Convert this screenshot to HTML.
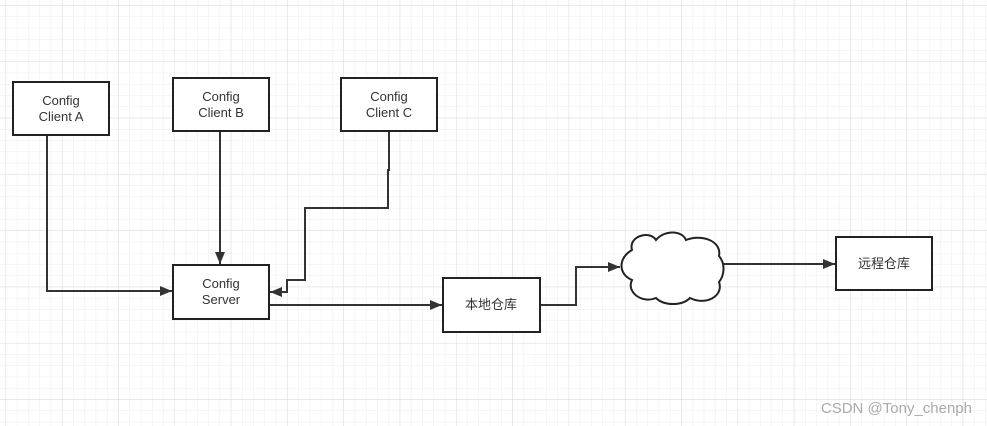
<!DOCTYPE html>
<html><head><meta charset="utf-8"><style>
html,body{margin:0;padding:0;background:#fff;}
svg{display:block}
text{font-family:"Liberation Sans","Noto Sans CJK SC",sans-serif;font-size:13px;fill:#333;}
</style></head><body>
<svg width="987" height="426" viewBox="0 0 987 426" xmlns="http://www.w3.org/2000/svg">
<defs>
<pattern id="minor" width="11.26" height="11.26" patternUnits="userSpaceOnUse" x="5.6" y="5.2">
<path d="M0 0H11.26M0 0V11.26" stroke="#ececec" stroke-width="1" fill="none"/>
</pattern>
<pattern id="major" width="56.3" height="56.3" patternUnits="userSpaceOnUse" x="5.6" y="5.2">
<path d="M0 0H56.3M0 0V56.3" stroke="#dcdcdc" stroke-width="1" fill="none"/>
</pattern>
<marker id="ar" viewBox="0 0 12 10" refX="12" refY="5" markerWidth="12" markerHeight="10" markerUnits="userSpaceOnUse" orient="auto">
<path d="M0 0L12 5L0 10Z" fill="#333"/>
</marker>
</defs>
<rect width="987" height="426" fill="url(#minor)"/>
<rect width="987" height="426" fill="url(#major)"/>
<g stroke="#333" stroke-width="2" fill="none">
<path d="M47 135V291H172" marker-end="url(#ar)"/>
<path d="M220 131V264" marker-end="url(#ar)"/>
<path d="M389 131V170H388V208H305V280H287V292H270" marker-end="url(#ar)"/>
<path d="M269 305H442" marker-end="url(#ar)"/>
<path d="M540 305H576V267H620" marker-end="url(#ar)"/>
<path d="M723 264H835" marker-end="url(#ar)"/>
</g>
<g stroke="#222" stroke-width="2" fill="#fff">
<rect x="13" y="82" width="96" height="53"/>
<rect x="173" y="78" width="96" height="53"/>
<rect x="341" y="78" width="96" height="53"/>
<rect x="173" y="265" width="96" height="54"/>
<rect x="443" y="278" width="97" height="54"/>
<rect x="836" y="237" width="96" height="53"/>
<path d="M632 250 C628 236,650 230,656 240 C664 230,682 230,686 240 C700 234,722 240,719 256 C726 264,724 276,719 282 C724 296,706 306,690 298 C682 306,664 306,656 298 C642 304,626 292,632 280 C618 274,618 258,632 250 Z"/>
</g>
<g text-anchor="middle">
<text x="61" y="105">Config</text><text x="61" y="121">Client A</text>
<text x="221" y="101">Config</text><text x="221" y="117">Client B</text>
<text x="389" y="101">Config</text><text x="389" y="117">Client C</text>
<text x="221" y="288">Config</text><text x="221" y="304">Server</text>
<text x="491" y="309">本地仓库</text>
<text x="884" y="268">远程仓库</text>
</g>
<text x="972" y="413" text-anchor="end" style="font-size:15px;fill:#aaa">CSDN @Tony_chenph</text>
</svg>
</body></html>
